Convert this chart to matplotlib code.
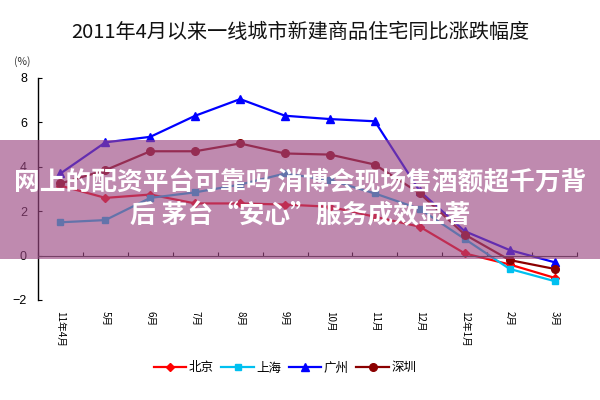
import numpy as np
import matplotlib
matplotlib.use("Agg")
import matplotlib.pyplot as plt
from matplotlib.patches import Rectangle

plt.rcParams['font.family'] = ['Noto Sans CJK SC', 'DejaVu Sans']

# -------------------- data --------------------
months = ["11年4月", "5月", "6月", "7月", "8月", "9月", "10月", "11月", "12月",
          "12年1月", "2月", "3月"]
beijing = [3.15, 2.6, 2.75, 2.35, 2.35, 2.3, 2.2, 1.75, 1.3, 0.1, -0.4, -1.0]
shanghai = [1.5, 1.6, 2.6, 2.85, 3.2, 3.7, 3.4, 2.8, 2.1, 0.75, -0.6, -1.15]
guangzhou = [3.7, 5.1, 5.35, 6.3, 7.05, 6.3, 6.15, 6.05, 2.9, 1.1, 0.25, -0.3]
shenzhen = [3.25, 3.85, 4.7, 4.7, 5.05, 4.6, 4.55, 4.1, 2.8, 0.95, -0.2, -0.6]
yticks = [-2, 0, 2, 4, 6, 8]

series = [("北京", beijing, '#ff0000', 'D', 4.5),
          ("上海", shanghai, '#00c0f0', 's', 5),
          ("广州", guangzhou, '#0000ff', '^', 6),
          ("深圳", shenzhen, '#8b0000', 'o', 5.5)]

# -------------------- figure --------------------
fig = plt.figure(figsize=(6, 4), dpi=100)
ax = fig.add_axes([38/600, 0.25, (577-38)/600, 0.555])

x = np.arange(len(months))
for name, vals, col, mk, ms in series:
    ax.plot(x, vals, color=col, marker=mk, markersize=ms, linewidth=1.6, label=name)

ax.set_xlim(-0.5, len(months) - 0.5)
ax.set_ylim(-2, 8)
ax.set_yticks(yticks)
ax.tick_params(axis='y', direction='in', length=3, labelsize=9, pad=8)
for lab in ax.get_yticklabels():
    lab.set_family(['Liberation Sans', 'DejaVu Sans'])

# category boundaries as major ticks on the zero line, labels at centres
ax.spines['bottom'].set_position(('data', 0))
ax.set_xticks(np.arange(-0.5, len(months)), labels=[])
ax.set_xticks(x, labels=months, minor=True)
ax.tick_params(axis='x', which='major', direction='in', length=3)
ax.tick_params(axis='x', which='minor', length=0, pad=40, labelsize=7, labelrotation=-90)
for lab in ax.get_xticklabels(minor=True):
    lab.set_verticalalignment('top')

ax.spines['top'].set_visible(False)
ax.spines['right'].set_visible(False)
ax.spines['left'].set_linewidth(1.0)
ax.spines['bottom'].set_color('#333333')

fig.text(0.5, 1 - 33/400, "2011年4月以来一线城市新建商品住宅同比涨跌幅度",
         ha='center', va='center', fontsize=14.5, fontweight='medium', color='#111111')
fig.text(22/600, 1 - 62/400, "(%)", ha='center', va='center', fontsize=7.5,
         color='#333333')

fig.legend(loc='center', bbox_to_anchor=(0.475, 1 - 368/400), ncol=4, frameon=False,
           fontsize=9, handlelength=2.6, handletextpad=0.2, columnspacing=0.6)

# -------------------- overlay banner --------------------
fig.add_artist(Rectangle((0, 1 - 259/400), 1, 119/400, transform=fig.transFigure,
                         facecolor=(156/255, 72/255, 131/255), alpha=0.64,
                         edgecolor='none', zorder=5))
fig.text(0.5, 1 - 183/400, "网上的配资平台可靠吗 消博会现场售酒额超千万背",
         ha='center', va='center', fontsize=18.5, fontweight='bold', color='white', zorder=6)
fig.text(0.5, 1 - 216/400, "后 茅台“安心”服务成效显著",
         ha='center', va='center', fontsize=18.5, fontweight='bold', color='white', zorder=6)

fig.savefig("out.png", dpi=100)
